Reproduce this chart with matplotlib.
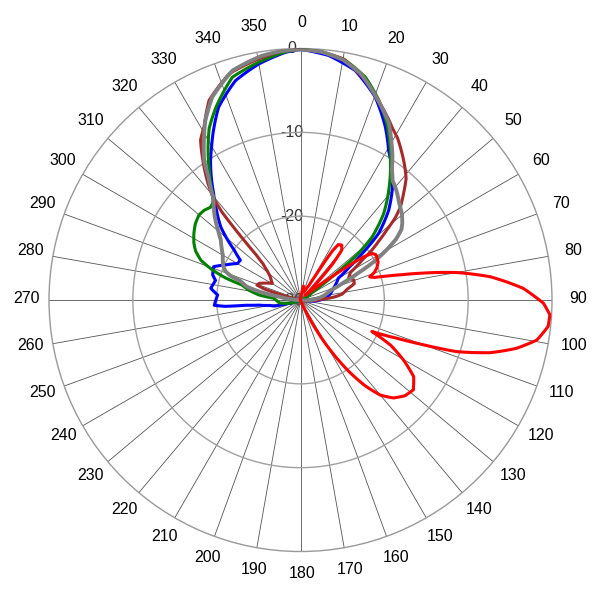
import numpy as np
import matplotlib.pyplot as plt
from matplotlib.transforms import offset_copy

plt.rcParams['font.family'] = ['Liberation Sans', 'DejaVu Sans']

# antenna pattern, angle in degrees (clockwise from north) / level in dB
blue_deg = [0, 6.6, 13.4, 20.2, 26.1, 30.5, 34, 40, 44.5, 49.6, 53, 56, 60, 70, 80, 86, 92, 100, 110,
            250, 254, 257, 260, 263, 264.5, 265.2, 266.5, 270, 273.5, 277.5, 280, 283, 286, 291, 295,
            300, 303.5, 307, 312.5, 317, 321, 327, 330, 337, 343.5, 350, 356.5, 360]
blue_db = [-0.1, -0.64, -1.85, -4.2, -7.0, -9.3, -10.6, -13.0, -15.0, -17.8, -20.8, -23.0, -24.8, -25.8, -26.5, -27.0, -28.0, -29.5, -30,
           -30, -28.5, -26.8, -26.3, -25.0, -23.5, -21.0, -19.7, -19.9, -20.1, -19.2, -19.4, -19.6, -19.1, -18.9, -20.1,
           -21.3, -21.4, -20.1, -17.1, -15.3, -13.5, -10.3, -8.8, -5.0, -2.7, -1.4, -0.4, -0.1]

green_deg = [0, 5, 10.6, 16.2, 21.4, 26.1, 31, 33, 38.8, 43.9, 48.6, 51.5, 53, 55, 58, 70, 180,
             245, 252, 256, 262, 268, 274, 277, 281, 284.4, 286.5, 289, 291.8, 295, 298, 302, 306,
             310, 313, 316, 318.5, 321, 325, 328.5, 332, 336.3, 343, 350, 356, 360]
green_db = [0.0, -0.3, -0.9, -2.3, -4.4, -6.6, -9.2, -10.3, -13.2, -15.7, -18.6, -21.5, -24.5, -27.0, -28.5, -29.5, -30,
            -30, -29.0, -28.4, -27.5, -27.2, -26.8, -25.0, -23.7, -22.8, -20.6, -18.8, -17.2, -16.2, -15.6, -15.0, -14.5,
            -14.2, -14.3, -14.6, -14.3, -13.2, -11.0, -8.9, -6.8, -4.9, -2.2, -1.2, -0.4, 0.0]

brown_deg = [0, 5, 10.2, 16.5, 22.9, 28.3, 31, 34, 38, 41, 44, 47, 49, 51, 53, 55, 57, 61, 65.5, 69.5,
             73, 77, 82, 85, 88, 95, 110, 270, 282, 284.5, 285.5, 287, 289, 292, 296, 300.5, 304, 308,
             311, 314, 315.5, 316.5, 317.3, 318.2, 319.5, 321.5, 325, 328, 331, 335.4, 342.5, 350.2, 356, 360]
brown_db = [-0.1, -0.3, -0.8, -2.7, -5.0, -6.8, -7.5, -8.5, -9.8, -10.8, -12.3, -13.7, -15.0, -16.8, -18.3, -19.6, -21.2, -23.2, -23.7, -23.2,
            -23.3, -24.3, -25.0, -26.0, -27.5, -29.0, -30, -30, -29.5, -28.2, -27.3, -25.5, -24.5, -24.7, -25.4, -26.1, -25.8, -25.4,
            -24.8, -23.8, -22.5, -20.5, -18.5, -16.0, -14.0, -12.3, -9.7, -7.5, -6.3, -3.8, -1.7, -0.8, -0.2, -0.1]

gray_deg = [0, 5, 10, 15, 20, 26.5, 30, 32.5, 35, 37.6, 41, 45.5, 50, 53, 55, 57.5, 60, 62.5, 65, 68, 72,
            78, 85, 95, 110, 270, 276, 279, 281.5, 284, 287.5, 289, 291, 294, 300, 303, 307, 310, 314,
            318, 319.5, 323.3, 325.4, 328.9, 332, 336.5, 343.5, 351, 356, 360]
gray_db = [-0.1, -0.3, -0.9, -2.1, -4.0, -6.4, -8.3, -9.6, -11.0, -12.0, -12.6, -13.5, -14.2, -14.8, -15.3, -16.5, -18.3, -20.2, -22.5, -24.5, -26.2,
           -27.0, -28.0, -29.5, -30, -30, -28.5, -27.3, -25.0, -23.4, -22.5, -21.2, -20.4, -19.9, -19.3, -18.8, -18.1, -17.2, -15.8,
           -14.5, -14.0, -11.6, -9.75, -7.7, -5.8, -3.6, -1.45, -0.5, -0.2, -0.1]

red_deg = [0, 8, 12, 18, 25, 30, 31.5, 32.3, 33, 34.3, 36.9, 39.6, 41.8, 43.5, 46, 50, 53, 54.5, 55.5, 57,
           59, 61.5, 64, 67, 69.5, 71.5, 73, 74.5, 76, 77.5, 80, 83, 87, 90.8, 93.4, 96.1, 99.6, 102.6,
           105.5, 108.3, 110, 111.6, 113.8, 116.6, 120.2, 124.1, 128.5, 132.5, 136.5, 140, 143, 146, 149,
           152, 155, 160, 360]
red_db = [-30, -29.5, -28.3, -29.0, -28.8, -28.0, -26.5, -24.6, -23.0, -22.0, -21.8, -22.3, -24.4, -27.0, -29.2, -28.5, -26.0, -23.0, -21.0, -19.8,
          -19.5, -19.6, -19.7, -20.1, -20.6, -21.3, -20.8, -19.3, -17.5, -15.2, -11.1, -7.2, -3.4, -1.0, -0.2, -0.3, -1.4, -3.6,
          -6.5, -10.4, -14.4, -17.6, -20.7, -18.0, -15.8, -13.7, -12.8, -13.1, -13.9, -15.2, -17.2, -19.8, -22.8,
          -25.8, -28.3, -30, -30]

ring_values = [0, -10, -20, -30]
angle_ticks = np.arange(0, 360, 10)

fig = plt.figure(figsize=(6, 6), dpi=100)
ax = fig.add_axes([0.0817, 0.0808, 0.8383, 0.8383], projection='polar')
ax.set_theta_zero_location('N')
ax.set_theta_direction(-1)
ax.set_rlim(-30, 0)
ax.set_rticks([-20, -10])
ax.set_yticklabels([])
ax.set_thetagrids(angle_ticks, labels=[])
ax.xaxis.grid(True, color='#555555', lw=0.6)
ax.yaxis.grid(True, color='#a0a0a0', lw=1.0)
ax.spines['polar'].set_color('#999999')
ax.spines['polar'].set_linewidth(1.0)

# radial labels along the 0 degree spoke
lab_tr = offset_copy(ax.transData, fig=fig, x=-9, y=0, units='dots')
for v in ring_values:
    ax.text(0, v, str(v), transform=lab_tr, ha='center', va='center',
            fontsize=11.5, color='#333333', zorder=1)

# angle labels outside the circle
ang_tr = offset_copy(ax.transData, fig=fig, x=1.5, y=2, units='dots')
for a in angle_ticks:
    ax.text(np.deg2rad(a), 2.9, str(a), transform=ang_tr, ha='center', va='center',
            fontsize=11.5, clip_on=False)

series = [
    (blue_deg, blue_db, '#0000ff', 2.2),
    (green_deg, green_db, '#008000', 2.2),
    (brown_deg, brown_db, '#a52a2a', 2.2),
    (gray_deg, gray_db, '#808080', 2.8),
    (red_deg, red_db, '#ff0000', 2.2),
]
for deg, db, col, lw in series:
    line, = ax.plot(np.deg2rad(deg), db, color=col, lw=lw, zorder=3)
    # let the polar transform bend each segment
    line.get_path()._interpolation_steps = 40

fig.savefig('out.png', dpi=100)
